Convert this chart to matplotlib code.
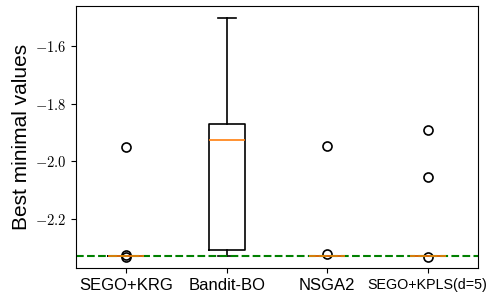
import matplotlib
matplotlib.use('Agg')
from matplotlib import pyplot as plt
from matplotlib.ticker import FuncFormatter

plt.rcParams['font.family'] = ['Liberation Sans', 'DejaVu Sans']
plt.rcParams['mathtext.fontset'] = 'cm'

methods = ['SEGO+KRG', 'Bandit-BO', 'NSGA2', 'SEGO+KPLS(d=5)']
true_min = -2.3294

# best minimal values per run
sego_krg = [-2.3294, -2.3294, -2.3294, -2.3294, -2.3294, -2.3294, -2.3294, -2.3315, -2.3262, -1.949]
bandit_bo = [-2.3294, -2.309, -1.926, -1.871, -1.503]
nsga2 = [-2.3294, -2.3294, -2.3294, -2.3294, -2.3275, -2.3275, -2.3294, -2.3294, -2.321, -1.946]
sego_kpls = [-2.3294, -2.3294, -2.3294, -2.3294, -2.3294, -2.3294, -2.3294, -2.3301, -2.055, -1.890]

fig = plt.figure(figsize=(4.9, 2.97), dpi=100)
ax = fig.add_axes([0.155, 0.0976, 0.8205, 0.8822])

lw = 1.2
ax.boxplot([sego_krg, bandit_bo, nsga2, sego_kpls], widths=0.36,
           boxprops=dict(linewidth=lw), whiskerprops=dict(linewidth=lw),
           capprops=dict(linewidth=lw),
           medianprops=dict(color='C1', linewidth=lw),
           flierprops=dict(marker='o', markerfacecolor='none', markeredgecolor='black',
                           markersize=6.5, markeredgewidth=1.2))
ax.axhline(true_min, color='g', linestyle='--', linewidth=1.5)

ax.set_xlim(0.5, 4.5)
ax.set_ylim(-2.370, -1.461)
ax.set_yticks([-2.2, -2.0, -1.8, -1.6])
ax.yaxis.set_major_formatter(FuncFormatter(lambda v, p: '$%.1f$' % v))
ax.tick_params(axis='y', labelsize=10.5)
ax.set_xticks([1, 2, 3, 4])
ax.set_xticklabels(methods)
sizes = [12, 12, 12, 10.3]
for lab, s in zip(ax.get_xticklabels(), sizes):
    lab.set_fontsize(s)
ax.set_ylabel('Best minimal values', fontsize=15, labelpad=3)

fig.savefig('out.png', dpi=100)
